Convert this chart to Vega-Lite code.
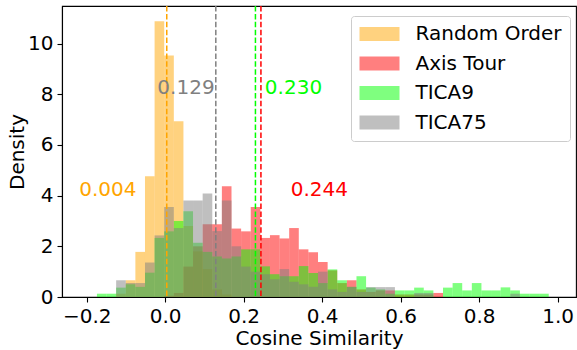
{
  "$schema": "https://vega.github.io/schema/vega-lite/v6.json",
  "width": 514,
  "height": 291,
  "autosize": {"type": "none"},
  "padding": {"left": 62, "top": 6, "right": 1, "bottom": 53},
  "config": {
    "font": "DejaVu Sans",
    "view": {"stroke": "black", "strokeWidth": 1.1},
    "scale": {"continuousPadding": 0},
    "axis": {
      "grid": false,
      "labelFont": "DejaVu Sans",
      "titleFont": "DejaVu Sans",
      "labelFontSize": 20,
      "titleFontSize": 20,
      "titleFontWeight": "normal",
      "labelColor": "black",
      "titleColor": "black",
      "domainColor": "black",
      "domainWidth": 1.1,
      "tickColor": "black",
      "tickWidth": 1.1,
      "tickSize": 5,
      "labelPadding": 4
    }
  },
  "datasets": {
    "hist": [
      {"s": "Random Order", "x0": -0.125, "x1": -0.1005, "d": 0.13},
      {"s": "Random Order", "x0": -0.1005, "x1": -0.076, "d": 0.66},
      {"s": "Random Order", "x0": -0.076, "x1": -0.0515, "d": 1.78},
      {"s": "Random Order", "x0": -0.0515, "x1": -0.027, "d": 4.76},
      {"s": "Random Order", "x0": -0.027, "x1": -0.0025, "d": 10.88},
      {"s": "Random Order", "x0": -0.0025, "x1": 0.022, "d": 9.53},
      {"s": "Random Order", "x0": 0.022, "x1": 0.0465, "d": 6.93},
      {"s": "Random Order", "x0": 0.0465, "x1": 0.071, "d": 2.8},
      {"s": "Random Order", "x0": 0.071, "x1": 0.0955, "d": 1.8},
      {"s": "Random Order", "x0": 0.0955, "x1": 0.12, "d": 1.1},
      {"s": "Random Order", "x0": 0.12, "x1": 0.1445, "d": 0.3},
      {"s": "Random Order", "x0": 0.1445, "x1": 0.169, "d": 0.1},

      {"s": "Axis Tour", "x0": -0.0025, "x1": 0.022, "d": 0.05},
      {"s": "Axis Tour", "x0": 0.022, "x1": 0.0465, "d": 0.16},
      {"s": "Axis Tour", "x0": 0.0465, "x1": 0.071, "d": 1.2},
      {"s": "Axis Tour", "x0": 0.071, "x1": 0.0955, "d": 2.0},
      {"s": "Axis Tour", "x0": 0.0955, "x1": 0.12, "d": 2.87},
      {"s": "Axis Tour", "x0": 0.12, "x1": 0.1445, "d": 2.87},
      {"s": "Axis Tour", "x0": 0.1445, "x1": 0.169, "d": 4.37},
      {"s": "Axis Tour", "x0": 0.169, "x1": 0.1935, "d": 2.7},
      {"s": "Axis Tour", "x0": 0.1935, "x1": 0.218, "d": 2.59},
      {"s": "Axis Tour", "x0": 0.218, "x1": 0.2425, "d": 3.55},
      {"s": "Axis Tour", "x0": 0.2425, "x1": 0.267, "d": 2.33},
      {"s": "Axis Tour", "x0": 0.267, "x1": 0.2915, "d": 2.44},
      {"s": "Axis Tour", "x0": 0.2915, "x1": 0.316, "d": 2.31},
      {"s": "Axis Tour", "x0": 0.316, "x1": 0.3405, "d": 2.72},
      {"s": "Axis Tour", "x0": 0.3405, "x1": 0.365, "d": 1.88},
      {"s": "Axis Tour", "x0": 0.365, "x1": 0.3895, "d": 1.77},
      {"s": "Axis Tour", "x0": 0.3895, "x1": 0.414, "d": 1.38},
      {"s": "Axis Tour", "x0": 0.414, "x1": 0.4385, "d": 1.05},
      {"s": "Axis Tour", "x0": 0.4385, "x1": 0.463, "d": 0.55},
      {"s": "Axis Tour", "x0": 0.463, "x1": 0.4875, "d": 0.66},
      {"s": "Axis Tour", "x0": 0.4875, "x1": 0.512, "d": 0.3},
      {"s": "Axis Tour", "x0": 0.512, "x1": 0.5365, "d": 0.2},
      {"s": "Axis Tour", "x0": 0.5365, "x1": 0.561, "d": 0.26},
      {"s": "Axis Tour", "x0": 0.561, "x1": 0.5855, "d": 0.26},
      {"s": "Axis Tour", "x0": 0.5855, "x1": 0.61, "d": 0.1},
      {"s": "Axis Tour", "x0": 0.61, "x1": 0.6345, "d": 0.1},
      {"s": "Axis Tour", "x0": 0.6345, "x1": 0.659, "d": 0.1},
      {"s": "Axis Tour", "x0": 0.659, "x1": 0.6835, "d": 0.1},
      {"s": "Axis Tour", "x0": 0.6835, "x1": 0.708, "d": 0.16},

      {"s": "TICA9", "x0": -0.174, "x1": -0.1495, "d": 0.13},
      {"s": "TICA9", "x0": -0.1495, "x1": -0.125, "d": 0.13},
      {"s": "TICA9", "x0": -0.125, "x1": -0.1005, "d": 0.37},
      {"s": "TICA9", "x0": -0.1005, "x1": -0.076, "d": 0.5},
      {"s": "TICA9", "x0": -0.076, "x1": -0.0515, "d": 0.4},
      {"s": "TICA9", "x0": -0.0515, "x1": -0.027, "d": 0.96},
      {"s": "TICA9", "x0": -0.027, "x1": -0.0025, "d": 2.33},
      {"s": "TICA9", "x0": -0.0025, "x1": 0.022, "d": 2.59},
      {"s": "TICA9", "x0": 0.022, "x1": 0.0465, "d": 3.0},
      {"s": "TICA9", "x0": 0.0465, "x1": 0.071, "d": 3.38},
      {"s": "TICA9", "x0": 0.071, "x1": 0.0955, "d": 2.14},
      {"s": "TICA9", "x0": 0.0955, "x1": 0.12, "d": 1.78},
      {"s": "TICA9", "x0": 0.12, "x1": 0.1445, "d": 1.6},
      {"s": "TICA9", "x0": 0.1445, "x1": 0.169, "d": 1.52},
      {"s": "TICA9", "x0": 0.169, "x1": 0.1935, "d": 1.6},
      {"s": "TICA9", "x0": 0.1935, "x1": 0.218, "d": 1.88},
      {"s": "TICA9", "x0": 0.218, "x1": 0.2425, "d": 1.88},
      {"s": "TICA9", "x0": 0.2425, "x1": 0.267, "d": 1.21},
      {"s": "TICA9", "x0": 0.267, "x1": 0.2915, "d": 0.9},
      {"s": "TICA9", "x0": 0.2915, "x1": 0.316, "d": 0.82},
      {"s": "TICA9", "x0": 0.316, "x1": 0.3405, "d": 0.82},
      {"s": "TICA9", "x0": 0.3405, "x1": 0.365, "d": 1.22},
      {"s": "TICA9", "x0": 0.365, "x1": 0.3895, "d": 0.95},
      {"s": "TICA9", "x0": 0.3895, "x1": 0.414, "d": 0.55},
      {"s": "TICA9", "x0": 0.414, "x1": 0.4385, "d": 1.09},
      {"s": "TICA9", "x0": 0.4385, "x1": 0.463, "d": 0.66},
      {"s": "TICA9", "x0": 0.463, "x1": 0.4875, "d": 0.4},
      {"s": "TICA9", "x0": 0.4875, "x1": 0.512, "d": 0.82},
      {"s": "TICA9", "x0": 0.512, "x1": 0.5365, "d": 0.37},
      {"s": "TICA9", "x0": 0.5365, "x1": 0.561, "d": 0.3},
      {"s": "TICA9", "x0": 0.561, "x1": 0.5855, "d": 0.13},
      {"s": "TICA9", "x0": 0.5855, "x1": 0.61, "d": 0.26},
      {"s": "TICA9", "x0": 0.61, "x1": 0.6345, "d": 0.26},
      {"s": "TICA9", "x0": 0.6345, "x1": 0.659, "d": 0.37},
      {"s": "TICA9", "x0": 0.659, "x1": 0.6835, "d": 0.26},
      {"s": "TICA9", "x0": 0.708, "x1": 0.7325, "d": 0.37},
      {"s": "TICA9", "x0": 0.7325, "x1": 0.757, "d": 0.55},
      {"s": "TICA9", "x0": 0.757, "x1": 0.7815, "d": 0.26},
      {"s": "TICA9", "x0": 0.7815, "x1": 0.806, "d": 0.55},
      {"s": "TICA9", "x0": 0.806, "x1": 0.8305, "d": 0.26},
      {"s": "TICA9", "x0": 0.8305, "x1": 0.855, "d": 0.26},
      {"s": "TICA9", "x0": 0.855, "x1": 0.8795, "d": 0.38},
      {"s": "TICA9", "x0": 0.8795, "x1": 0.904, "d": 0.26},
      {"s": "TICA9", "x0": 0.904, "x1": 0.9285, "d": 0.13},
      {"s": "TICA9", "x0": 0.9285, "x1": 0.953, "d": 0.13},
      {"s": "TICA9", "x0": 0.953, "x1": 0.9775, "d": 0.13},

      {"s": "TICA75", "x0": -0.125, "x1": -0.1005, "d": 0.66},
      {"s": "TICA75", "x0": -0.1005, "x1": -0.076, "d": 0.55},
      {"s": "TICA75", "x0": -0.076, "x1": -0.0515, "d": 0.55},
      {"s": "TICA75", "x0": -0.0515, "x1": -0.027, "d": 1.36},
      {"s": "TICA75", "x0": -0.027, "x1": -0.0025, "d": 2.43},
      {"s": "TICA75", "x0": -0.0025, "x1": 0.022, "d": 3.55},
      {"s": "TICA75", "x0": 0.022, "x1": 0.0465, "d": 2.72},
      {"s": "TICA75", "x0": 0.0465, "x1": 0.071, "d": 3.81},
      {"s": "TICA75", "x0": 0.071, "x1": 0.0955, "d": 3.81},
      {"s": "TICA75", "x0": 0.0955, "x1": 0.12, "d": 4.08},
      {"s": "TICA75", "x0": 0.12, "x1": 0.1445, "d": 2.6},
      {"s": "TICA75", "x0": 0.1445, "x1": 0.169, "d": 3.81},
      {"s": "TICA75", "x0": 0.169, "x1": 0.1935, "d": 2.0},
      {"s": "TICA75", "x0": 0.1935, "x1": 0.218, "d": 1.2},
      {"s": "TICA75", "x0": 0.218, "x1": 0.2425, "d": 1.0},
      {"s": "TICA75", "x0": 0.2425, "x1": 0.267, "d": 0.9},
      {"s": "TICA75", "x0": 0.267, "x1": 0.2915, "d": 0.7},
      {"s": "TICA75", "x0": 0.2915, "x1": 0.316, "d": 1.1},
      {"s": "TICA75", "x0": 0.316, "x1": 0.3405, "d": 0.6},
      {"s": "TICA75", "x0": 0.3405, "x1": 0.365, "d": 0.5},
      {"s": "TICA75", "x0": 0.365, "x1": 0.3895, "d": 0.4},
      {"s": "TICA75", "x0": 0.3895, "x1": 0.414, "d": 1.0},
      {"s": "TICA75", "x0": 0.414, "x1": 0.4385, "d": 0.3},
      {"s": "TICA75", "x0": 0.4385, "x1": 0.463, "d": 0.2},
      {"s": "TICA75", "x0": 0.463, "x1": 0.4875, "d": 0.4},
      {"s": "TICA75", "x0": 0.4875, "x1": 0.512, "d": 0.2},
      {"s": "TICA75", "x0": 0.512, "x1": 0.5365, "d": 0.39},
      {"s": "TICA75", "x0": 0.5365, "x1": 0.561, "d": 0.39},
      {"s": "TICA75", "x0": 0.561, "x1": 0.5855, "d": 0.39},
      {"s": "TICA75", "x0": 0.6345, "x1": 0.659, "d": 0.16},
      {"s": "TICA75", "x0": 0.659, "x1": 0.6835, "d": 0.16},
      {"s": "TICA75", "x0": 0.8795, "x1": 0.904, "d": 0.13}
    ],
    "stats": [
      {"s": "Random Order", "v": 0.004, "lx": -0.146, "ly": 4.0},
      {"s": "Axis Tour", "v": 0.244, "lx": 0.393, "ly": 4.0},
      {"s": "TICA9", "v": 0.230, "lx": 0.327, "ly": 8.0},
      {"s": "TICA75", "v": 0.129, "lx": 0.053, "ly": 8.0}
    ]
  },
  "layer": [
    {
      "data": {"name": "hist"},
      "mark": {"type": "bar", "opacity": 0.5, "strokeWidth": 0, "orient": "vertical"},
      "encoding": {
        "x": {
          "field": "x0", "type": "quantitative", "title": "Cosine Similarity",
          "scale": {"domain": [-0.263, 1.047], "nice": false, "zero": false, "padding": 0},
          "axis": {"values": [-0.2, 0, 0.2, 0.4, 0.6, 0.8, 1.0], "format": ".1f",
                   "labelExpr": "replace(datum.label, '-', '\u2212')", "titlePadding": 2}
        },
        "x2": {"field": "x1"},
        "y": {
          "field": "d", "type": "quantitative", "title": "Density", "stack": null,
          "scale": {"domain": [0, 11.48], "nice": false, "padding": 0},
          "axis": {"values": [0, 2, 4, 6, 8, 10], "format": "d", "titlePadding": 0}
        },
        "y2": {"datum": 0},
        "color": {
          "field": "s", "type": "nominal",
          "scale": {
            "domain": ["Random Order", "Axis Tour", "TICA9", "TICA75"],
            "range": ["#ffa500", "#ff0000", "#00ff00", "#808080"]
          },
          "legend": {
            "title": null,
            "orient": "none",
            "legendX": 289,
            "legendY": 10,
            "symbolType": "M-2,-0.7H2V0.7H-2Z",
            "symbolSize": 400,
            "symbolOffset": 10.5,
            "symbolOpacity": 0.5,
            "symbolStrokeWidth": 0,
            "labelFont": "DejaVu Sans",
            "labelFontSize": 20,
            "labelColor": "black",
            "labelOffset": 26,
            "padding": 8,
            "rowPadding": 9.5,
            "strokeColor": "#cccccc",
            "fillColor": "rgba(255,255,255,0.8)",
            "cornerRadius": 3
          }
        }
      }
    },
    {
      "data": {"name": "stats"},
      "mark": {"type": "rule", "strokeDash": [5.5, 2.4], "strokeWidth": 1.5},
      "encoding": {
        "x": {"field": "v", "type": "quantitative", "title": "Cosine Similarity",
              "scale": {"domain": [-0.263, 1.047], "nice": false, "zero": false, "padding": 0}},
        "color": {"field": "s", "type": "nominal", "legend": null}
      }
    },
    {
      "data": {"name": "stats"},
      "mark": {"type": "text", "fontSize": 20, "font": "DejaVu Sans", "align": "center", "baseline": "alphabetic"},
      "encoding": {
        "x": {"field": "lx", "type": "quantitative", "title": "Cosine Similarity",
              "scale": {"domain": [-0.263, 1.047], "nice": false, "zero": false, "padding": 0}},
        "y": {"field": "ly", "type": "quantitative", "title": "Density",
              "scale": {"domain": [0, 11.48], "nice": false, "padding": 0}},
        "text": {"field": "v", "type": "quantitative", "format": ".3f"},
        "color": {"field": "s", "type": "nominal", "legend": null}
      }
    }
  ]
}
